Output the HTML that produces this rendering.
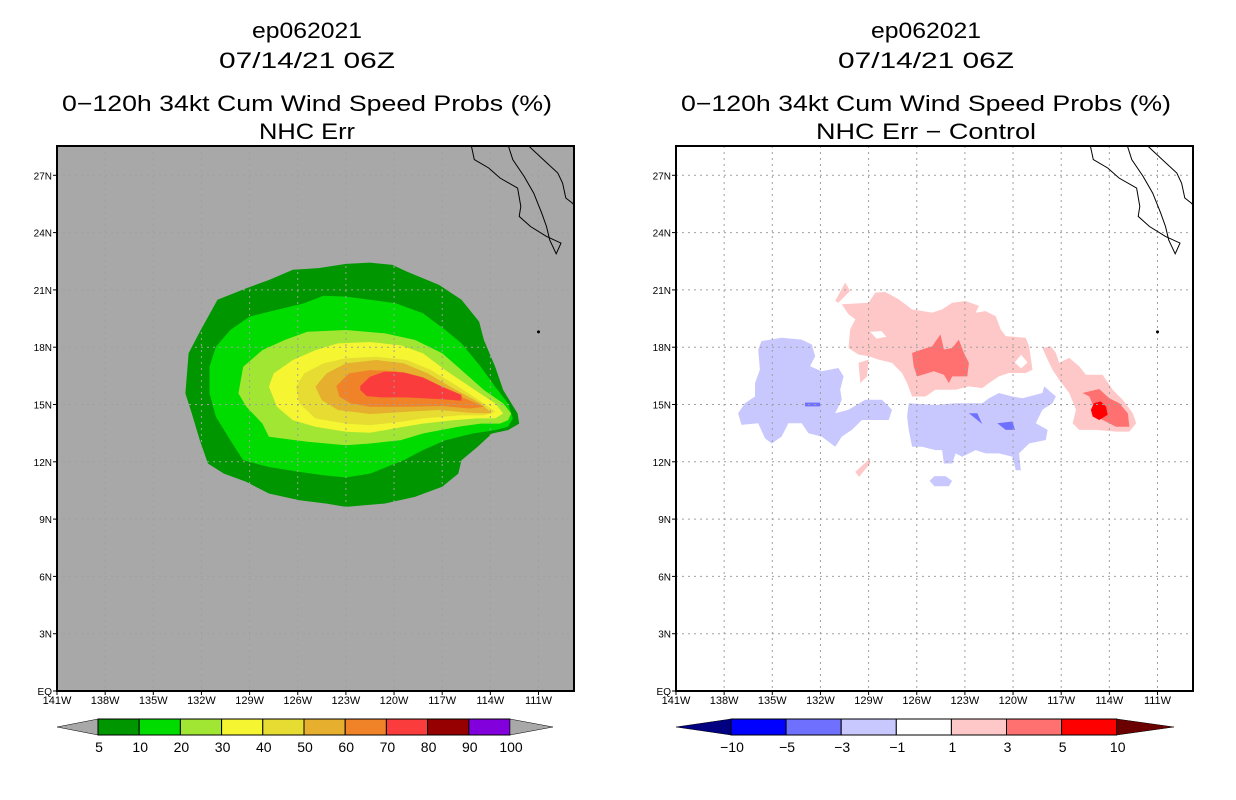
<!DOCTYPE html>
<html><head><meta charset="utf-8"><style>
html,body{margin:0;padding:0;background:#fff;}
svg{display:block;}
text{font-family:"Liberation Sans",sans-serif;fill:#000;}
</style></head><body>
<svg id="chart" width="1236" height="800" viewBox="0 0 1236 800"></svg>
<script>
// ---------- data ----------
const latTicks=[27,24,21,18,15,12,9,6,3,0];
const latTickLabels=["27N","24N","21N","18N","15N","12N","9N","6N","3N","EQ"];
const lonTicks=[141,138,135,132,129,126,123,120,117,114,111];
const lonTickLabels=["141W","138W","135W","132W","129W","126W","123W","120W","117W","114W","111W"];
const probLevels=["5","10","20","30","40","50","60","70","80","90","100"];
const probColors=["#009600","#00dc00","#a0e632","#f5f532","#e6dc32","#e6af2d","#f08228","#fa3c3c","#960000","#8200dc"];
const diffLevels=["-10","-5","-3","-1","1","3","5","10"];
const diffColors=["#000080","#0000ff","#7070ff","#c8c8ff","#ffffff","#ffc8c8","#ff7070","#ff0000","#6b0000"];
const prob5=[[133.0,15.58],[132.8,17.68],[132.1,18.81],[131.0,20.48],[129.2,21.09],[127.8,21.52],[126.3,22.05],[124.7,22.14],[123.0,22.36],[121.5,22.43],[120.1,22.31],[119.2,21.96],[117.2,21.26],[115.8,20.48],[114.7,19.34],[114.4,18.38],[113.7,16.98],[113.2,15.76],[112.3,14.53],[112.2,14.0],[112.9,13.66],[113.9,13.48],[114.8,12.78],[115.8,12.08],[116.0,11.38],[117.0,10.69],[118.7,10.16],[120.6,9.81],[123.0,9.64],[124.2,9.81],[125.9,9.99],[127.8,10.34],[129.2,10.95],[130.6,11.38],[131.6,11.91],[132.1,13.13],[132.6,14.53]];
const prob10=[[131.5,16.98],[131.1,18.03],[130.2,18.9],[129.0,19.6],[127.8,19.86],[125.6,20.3],[124.4,20.69],[123.0,20.65],[121.5,20.48],[119.9,20.3],[118.2,19.78],[116.8,18.9],[115.8,18.2],[114.6,16.98],[113.7,15.93],[112.9,15.06],[112.6,14.27],[112.9,13.83],[113.7,13.66],[115.1,13.48],[116.8,13.13],[118.2,12.61],[119.4,12.08],[121.5,11.38],[123.0,11.18],[124.4,11.3],[125.9,11.47],[127.8,11.73],[129.4,12.08],[130.2,13.13],[131.1,14.36],[131.5,15.58]];
const prob20=[[129.7,15.58],[129.4,16.98],[128.2,17.85],[126.8,18.38],[125.4,18.81],[123.0,18.9],[120.6,18.73],[118.7,18.38],[117.0,17.68],[115.8,16.8],[114.4,15.76],[113.2,15.06],[112.7,14.53],[112.9,14.18],[113.4,14.0],[114.6,14.0],[116.0,13.83],[118.2,13.48],[119.6,13.13],[121.5,12.96],[123.0,12.87],[125.4,13.05],[127.8,13.31],[128.2,14.0],[129.2,14.88]];
const prob30=[[127.8,15.93],[127.5,16.63],[126.3,17.33],[124.9,17.85],[123.5,18.2],[121.5,18.27],[119.6,18.1],[118.2,17.68],[116.8,16.8],[115.1,15.84],[113.7,15.06],[113.2,14.53],[113.7,14.27],[114.8,14.27],[116.3,14.18],[118.2,14.0],[119.6,13.8],[121.5,13.52],[123.0,13.57],[124.9,13.83],[126.3,14.18],[127.3,14.88]];
const prob40=[[126.1,15.93],[125.6,16.63],[124.4,17.15],[123.0,17.42],[121.1,17.5],[119.2,17.33],[117.7,16.8],[116.0,15.93],[114.4,15.06],[113.7,14.62],[114.4,14.44],[115.8,14.44],[118.2,14.27],[119.6,14.09],[121.5,13.92],[123.0,14.0],[124.9,14.27],[125.9,15.06]];
const prob50=[[124.9,15.93],[124.2,16.63],[123.0,17.15],[121.1,17.33],[119.4,17.15],[117.9,16.63],[116.3,15.84],[114.6,15.06],[113.9,14.53],[115.3,14.57],[117.2,14.71],[119.2,14.62],[121.5,14.5],[123.5,14.71],[124.5,15.23]];
const prob60=[[123.6,15.97],[122.8,16.63],[121.5,16.8],[119.9,16.75],[118.5,16.45],[116.8,15.76],[115.1,15.14],[114.4,14.88],[115.3,14.79],[117.0,14.92],[119.2,14.88],[121.5,14.88],[122.7,15.06],[123.4,15.41]];
const prob70=[[122.1,15.97],[121.5,16.45],[120.6,16.72],[119.4,16.68],[118.2,16.42],[117.0,15.93],[115.8,15.5],[115.8,15.2],[117.0,15.27],[119.2,15.37],[120.8,15.37],[121.7,15.44],[122.1,15.76]];
const negA=[[135.67,18.32],[134.42,18.49],[133.17,18.4],[132.54,18.14],[132.33,17.53],[132.65,17.0],[131.92,16.74],[130.88,16.91],[130.56,16.47],[130.77,15.77],[130.67,15.25],[131.08,14.54],[130.25,14.72],[129.21,15.25],[128.17,15.25],[127.54,14.72],[127.75,14.19],[129.42,14.19],[130.04,13.67],[130.67,13.32],[131.08,12.79],[131.92,13.32],[132.75,13.49],[133.17,14.02],[134.0,14.02],[134.42,13.32],[135.04,12.96],[135.46,13.23],[135.88,14.02],[136.92,13.93],[137.13,14.54],[136.71,15.07],[136.08,15.42],[136.08,16.12],[135.77,16.82],[135.88,17.88]];
const negB=[[126.5,15.07],[124.83,14.98],[123.58,15.07],[121.92,15.07],[121.5,15.33],[120.88,15.6],[120.04,15.42],[119.42,15.33],[118.17,15.6],[118.06,15.95],[117.33,15.42],[117.54,15.07],[118.17,14.72],[118.58,14.02],[117.85,13.67],[117.96,13.14],[119.0,12.96],[119.63,12.44],[119.52,11.56],[119.83,11.56],[120.04,12.26],[120.88,12.44],[121.71,12.44],[122.33,12.61],[123.17,12.26],[123.58,12.44],[123.79,11.91],[124.31,11.91],[124.42,12.61],[124.83,12.61],[125.67,12.79],[126.29,12.79],[126.5,13.67],[126.6,14.37]];
const negC=[[125.2,11.0],[124.9,11.25],[124.2,11.25],[123.8,11.0],[124.0,10.72],[124.9,10.72]];
const neg3A=[[132.96,15.1],[132.02,15.1],[132.02,14.9],[132.96,14.9]];
const neg3B=[[122.75,14.54],[122.23,14.54],[121.92,13.98]];
const neg3C=[[120.98,14.02],[120.04,14.11],[119.88,13.67],[120.46,13.67]];
const posA=[[130.67,20.25],[129.0,20.33],[128.58,20.86],[127.96,20.89],[127.13,20.51],[126.29,19.98],[125.04,19.81],[124.42,19.98],[123.79,20.33],[122.96,20.42],[122.13,20.16],[122.33,19.81],[121.71,19.89],[121.08,19.63],[120.77,18.93],[120.46,18.58],[119.21,18.49],[119.0,18.05],[118.79,16.82],[119.21,16.65],[120.25,16.65],[120.88,16.47],[121.5,16.12],[121.92,15.86],[122.75,15.95],[123.58,15.77],[124.83,15.77],[125.46,15.42],[126.29,15.42],[126.6,16.12],[126.92,16.65],[127.54,17.18],[128.38,17.35],[129.0,17.53],[129.63,17.61],[130.25,17.96],[130.15,18.93],[129.83,19.46],[130.25,19.72]];
const posB=[[131.08,20.42],[130.46,21.39],[130.15,20.95],[130.88,20.33]];
const posC=[[129.63,17.18],[129.0,17.35],[129.1,16.47],[129.52,16.12]];
const posD=[[129.83,11.47],[128.9,12.18],[128.9,11.91],[129.6,11.21]];
const posE=[[118.17,17.96],[117.65,18.05],[117.33,17.7],[117.13,17.18],[116.5,17.44],[115.88,17.0],[115.46,16.56],[114.42,16.56],[113.79,15.77],[113.17,15.25],[112.54,14.54],[112.33,14.02],[112.75,13.58],[113.58,13.58],[114.83,13.67],[115.88,13.67],[116.29,14.02],[116.08,14.72],[116.5,15.6],[117.13,16.3],[117.54,16.82],[117.85,17.35]];
const pos3A=[[126.29,17.7],[125.67,17.88],[125.04,18.05],[124.52,18.67],[124.31,17.88],[123.79,17.96],[123.38,18.4],[123.06,17.7],[122.75,17.18],[122.85,16.47],[123.79,16.47],[124.0,16.12],[124.31,16.56],[124.94,16.74],[125.98,16.47],[126.19,17.0]];
const pos3B=[[115.67,15.6],[114.63,15.81],[114.0,15.33],[113.38,15.07],[112.85,14.54],[112.75,13.84],[113.58,13.84],[114.63,14.28],[114.94,14.81],[115.25,15.42]];
const pos5A=[[114.96,15.07],[114.54,15.16],[114.21,14.89],[114.1,14.46],[114.63,14.19],[115.04,14.37],[115.15,14.72]];
const holeA=[[128.9,18.8],[128.2,18.85],[127.9,18.55],[128.5,18.45]];
const holeB=[[119.5,17.6],[119.1,17.2],[119.5,16.9],[119.9,17.2]];
const bajaWest=[[115.2,28.6],[115.0,27.82],[114.1,27.38],[113.4,26.86],[112.3,26.33],[112.1,25.37],[112.2,24.85],[111.5,24.32],[110.5,23.8],[109.6,23.45],[109.9,22.89],[110.3,23.62],[110.5,24.32],[110.8,25.02],[111.3,26.07],[111.9,26.94],[112.6,27.82],[112.9,28.6]];
const mainland=[[111.7,28.6],[110.7,27.82],[109.8,27.12],[109.5,26.59],[109.3,25.81],[108.9,25.55],[108.6,25.3]];

// ---------- helpers ----------
const NS="http://www.w3.org/2000/svg";
const svg=document.getElementById('chart');
const LEFT0=57, RIGHT0=676, PW=517, TOP=146, BOT=691;
const PXLON=16.05, PXLAT=19.1;
function xs(off,lon){return off+(141-lon)*PXLON;}
function ys(lat){return BOT-lat*PXLAT;}
function mk(tag,attrs,parent){const e=document.createElementNS(NS,tag);for(const k in attrs)e.setAttribute(k,attrs[k]);(parent||svg).appendChild(e);return e;}
function poly(g,off,pts,fill,name){
  const p=mk('polygon',{points:pts.map(q=>xs(off,q[0]).toFixed(1)+','+ys(q[1]).toFixed(1)).join(' '),fill:fill},g);
  
  
}
function line(g,off,pts,name){
  const p=mk('polyline',{points:pts.map(q=>xs(off,q[0]).toFixed(1)+','+ys(q[1]).toFixed(1)).join(' '),fill:'none',stroke:'#000','stroke-width':1},g);
  
  
}
function txt(x,y,s,size,anchor,name,len){
  const t=mk('text',{x:x,y:y,'font-size':size,'text-anchor':anchor||'middle'});
  if(len){t.setAttribute('textLength',len);t.setAttribute('lengthAdjust','spacingAndGlyphs');}
  t.textContent=s;
  
  
  return t;
}

function panel(off,bg,name){
  const g=mk('g',{});
  
  
  const cp=mk('clipPath',{id:'clip'+off},g);
  mk('rect',{x:off,y:TOP,width:PW,height:BOT-TOP},cp);
  const bgR=mk('rect',{x:off,y:TOP,width:PW,height:BOT-TOP,fill:bg},g);
  
  
  const inner=mk('g',{'clip-path':'url(#clip'+off+')'},g);
  return {g:g,inner:inner};
}
function gridAndAxes(p,off){
  const gg=mk('g',{stroke:'#a0a0a0','stroke-width':1,'stroke-dasharray':'2,4'},p.inner);
  for(let i=1;i<lonTicks.length;i++){const x=xs(off,lonTicks[i]);const l=mk('line',{x1:x,x2:x,y1:TOP,y2:BOT},gg);}
  for(let i=0;i<latTicks.length-1;i++){const y=ys(latTicks[i]);const l=mk('line',{x1:off,x2:off+PW,y1:y,y2:y},gg);}
  const fr=mk('rect',{x:off,y:TOP,width:PW,height:BOT-TOP,fill:'none',stroke:'#000','stroke-width':2},p.g);
  
  latTicks.forEach((v,i)=>{const y=ys(v);mk('line',{x1:off-4,x2:off,y1:y,y2:y,stroke:'#000'},p.g);txt(off-5,y+4,latTickLabels[i],10,'end','lat-tick-label');});
  lonTicks.forEach((v,i)=>{const x=xs(off,v);mk('line',{x1:x,x2:x,y1:BOT,y2:BOT+4,stroke:'#000'},p.g);txt(x,BOT+13,lonTickLabels[i],11,'middle','lon-tick-label');});
  line(p.inner,off,bajaWest,'baja-coastline');
  line(p.inner,off,mainland,'mainland-coastline');
  const d1=mk('circle',{cx:xs(off,111.0),cy:ys(18.8),r:1.5,fill:'#000'},p.inner);
}

// ---------- left panel ----------
const L=panel(LEFT0,'#a8a8a8','prob-map-panel');
[prob5,prob10,prob20,prob30,prob40,prob50,prob60,prob70].forEach((pts,i)=>poly(L.inner,LEFT0,pts,probColors[i],'contour-'+probLevels[i]+'pct'));
gridAndAxes(L,LEFT0);

// ---------- right panel ----------
const R=panel(RIGHT0,'#ffffff','diff-map-panel');
[posA,posB,posC,posD,posE].forEach(p=>poly(R.inner,RIGHT0,p,diffColors[5],'diff-contour-plus1'));
[holeA,holeB].forEach(p=>poly(R.inner,RIGHT0,p,diffColors[4],'diff-contour-hole'));
[pos3A,pos3B].forEach(p=>poly(R.inner,RIGHT0,p,diffColors[6],'diff-contour-plus3'));
[pos5A].forEach(p=>poly(R.inner,RIGHT0,p,diffColors[7],'diff-contour-plus5'));
[negA,negB,negC].forEach(p=>poly(R.inner,RIGHT0,p,diffColors[3],'diff-contour-minus1'));
[neg3A,neg3B,neg3C].forEach(p=>poly(R.inner,RIGHT0,p,diffColors[2],'diff-contour-minus3'));
gridAndAxes(R,RIGHT0);

// ---------- titles ----------
[[307,'NHC Err'],[926,'NHC Err \u2212 Control']].forEach((t,i)=>{
  const cx=t[0];
  txt(cx,38,'ep062021',22,'middle','title-storm-id',110);
  txt(cx,68,'07/14/21 06Z',22,'middle','title-date',176);
  txt(cx,111,'0\u2212120h 34kt Cum Wind Speed Probs (%)',22,'middle','title-product',490);
  txt(cx,139,t[1],22,'middle','title-subtitle',i?220:96);
});

// ---------- colorbars ----------
function colorbar(tipL,edges,colors,labels,name){
  const g=mk('g',{});
  
  
  const y0=719,y1=735,ym=727;
  const n=edges.length;
  const tl=mk('polygon',{points:`${tipL[0]},${ym} ${edges[0]},${y0} ${edges[0]},${y1}`,fill:colors[0],stroke:'#000','stroke-width':0.5},g);
  
  for(let i=0;i<n-1;i++){
    const r=mk('rect',{x:edges[i],y:y0,width:edges[i+1]-edges[i],height:y1-y0,fill:colors[i+1],stroke:'#000','stroke-width':1},g);
    
  }
  const tr=mk('polygon',{points:`${edges[n-1]},${y0} ${tipL[1]},${ym} ${edges[n-1]},${y1}`,fill:colors[colors.length-1],stroke:'#000','stroke-width':0.5},g);
  
  edges.forEach((x,i)=>txt(x+1,752,labels[i],14,'middle','colorbar-label'));
}
const probEdges=probLevels.map((v,i)=>98+i*41.2);
colorbar([57,553],probEdges,['#a8a8a8'].concat(probColors).concat(['#a8a8a8']),probLevels,'prob-colorbar');
const diffEdges=diffLevels.map((v,i)=>731+i*55.1);
colorbar([676,1174],diffEdges,diffColors,diffLevels.map(s=>s.replace('-','\u2212')),'diff-colorbar');
</script>
</body></html>
